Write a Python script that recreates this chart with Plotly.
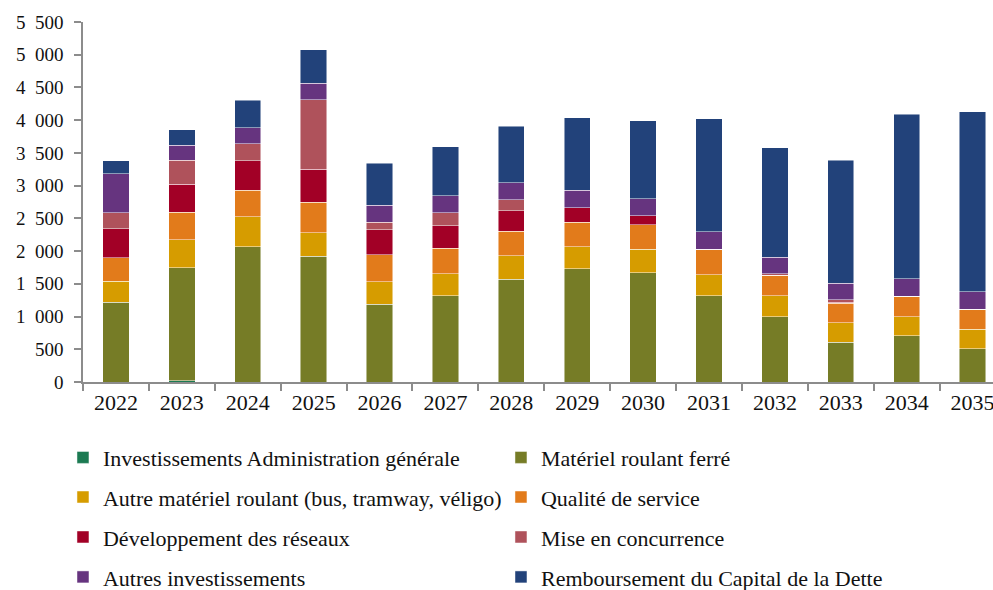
import plotly.graph_objects as go

years = ["2022", "2023", "2024", "2025", "2026", "2027", "2028",
         "2029", "2030", "2031", "2032", "2033", "2034", "2035"]

admin_generale = [0, 20, 0, 0, 0, 0, 0, 0, 0, 0, 0, 0, 0, 0]
materiel_ferre = [1222, 1728, 2063, 1925, 1187, 1314, 1569, 1727, 1671, 1314, 999, 611, 703, 510]
autre_materiel = [317, 428, 464, 358, 347, 342, 362, 341, 356, 321, 321, 296, 296, 295]
qualite_service = [356, 417, 402, 463, 412, 387, 376, 372, 378, 382, 310, 300, 310, 310]
developpement = [443, 428, 448, 504, 377, 346, 306, 224, 137, 10, 0, 15, 0, 0]
mise_concurrence = [250, 366, 265, 1065, 117, 199, 174, 0, 0, 0, 25, 35, 0, 0]
autres_invest = [596, 230, 245, 253, 264, 260, 259, 265, 260, 266, 250, 250, 271, 266]
remboursement = [199, 239, 417, 511, 637, 748, 861, 1110, 1192, 1731, 1676, 1879, 2510, 2750]

series = [
    ("Investissements Administration générale", admin_generale, "#1b7a52", "legend"),
    ("Matériel roulant ferré", materiel_ferre, "#767c26", "legend"),
    ("Autre matériel roulant (bus, tramway, véligo)", autre_materiel, "#d69c00", "legend2"),
    ("Qualité de service", qualite_service, "#e27b1b", "legend2"),
    ("Développement des réseaux", developpement, "#a20026", "legend3"),
    ("Mise en concurrence", mise_concurrence, "#af525b", "legend3"),
    ("Autres investissements", autres_invest, "#66347f", "legend4"),
    ("Remboursement du Capital de la Dette", remboursement, "#22427a", "legend4"),
]

font_family = "Liberation Serif, DejaVu Serif, serif"

fig = go.Figure()
for name, values, color, leg in series:
    fig.add_trace(go.Bar(
        x=years, y=values, name=name, legend=leg,
        marker=dict(color=color, line=dict(color="rgba(255,255,255,0.6)", width=0.8)),
        width=0.4,
    ))

# one legend per row, two entries per row
row_y = [-0.21, -0.32, -0.431, -0.542]
legend_cfg = {}
for i, key in enumerate(["legend", "legend2", "legend3", "legend4"]):
    legend_cfg[key] = dict(
        orientation="h", x=-0.022, xanchor="left", y=row_y[i], yanchor="middle",
        entrywidth=393, entrywidthmode="pixels",
        font=dict(family=font_family, size=22, color="#111"),
        bgcolor="rgba(0,0,0,0)", traceorder="normal",
    )

fig.update_layout(
    barmode="stack",
    width=993, height=590,
    margin=dict(l=83, r=0, t=22, b=208, autoexpand=False),
    paper_bgcolor="white", plot_bgcolor="white",
    separators=",\u2007",
    font=dict(family=font_family, size=18, color="#111"),
    xaxis=dict(
        type="category", range=[-0.5, 13.31],
        showline=True, linecolor="#8c8c8c", linewidth=1.5,
        ticks="outside", ticklen=7, tickcolor="#8c8c8c", tickwidth=1.5,
        tickson="boundaries", showgrid=False,
        tickfont=dict(size=22),
    ),
    yaxis=dict(
        range=[0, 5500], dtick=500, tickformat=",d",
        showline=True, linecolor="#8c8c8c", linewidth=1.5,
        ticks="outside", ticklen=7, tickcolor="#8c8c8c", tickwidth=1.5,
        showgrid=False, zeroline=False,
        tickfont=dict(size=19), ticklabelstandoff=7,
    ),
    **legend_cfg,
)

fig.write_html("out.html", config={"displayModeBar": False},
               post_script="document.body.style.margin='0';")
